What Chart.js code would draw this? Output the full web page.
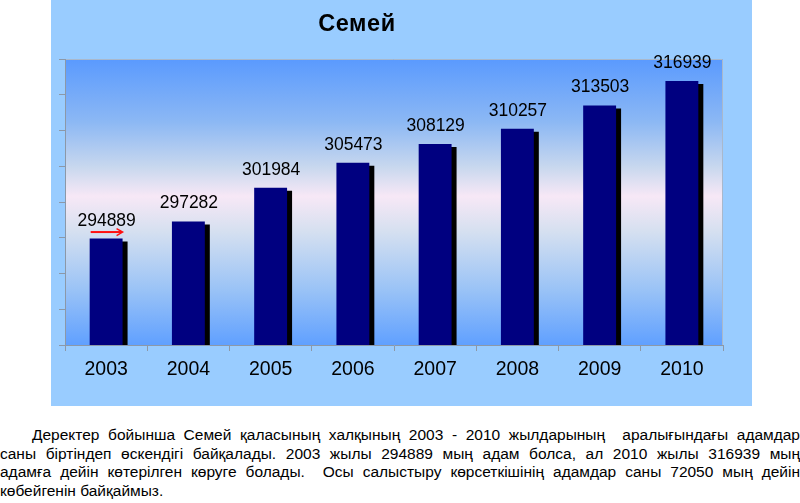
<!DOCTYPE html>
<html>
<head>
<meta charset="utf-8">
<script src="https://cdn.jsdelivr.net/npm/chart.js@4"></script>
<style>
  html, body { margin: 0; padding: 0; background: #ffffff; }
  body { width: 800px; height: 503px; position: relative; overflow: hidden; font-family: "Liberation Sans", Arial, sans-serif; }
  #box { position: absolute; left: 51px; top: 0; width: 701px; height: 406px; background: #99CCFF; }
  #box canvas { position: absolute; left: 0; top: 0; }
  #title { position: absolute; left: 257px; width: 200px; top: 10px; text-align: center; font: bold 23.5px "Liberation Sans", Arial, sans-serif; color: #000; letter-spacing: 0.6px; }
  #para { position: absolute; left: 0; top: 426px; width: 800px; font-size: 15.5px; line-height: 18.7px; color: #000; }
  #para .j { text-align: justify; text-align-last: justify; white-space: pre-wrap; }
  #para .first { text-indent: 32px; }
</style>
</head>
<body>
<div id="box"><canvas id="c" width="701" height="406"></canvas></div>
<div id="title">Семей</div>
<div id="para">
  <div class="j first">Деректер бойынша Семей қаласының халқының 2003 - 2010 жылдарының  аралығындағы адамдар</div>
  <div class="j">саны біртіндеп өскендігі байқалады. 2003 жылы 294889 мың адам болса, ал 2010 жылы 316939 мың</div>
  <div class="j">адамға дейін көтерілген көруге болады.  Осы салыстыру көрсеткішінің адамдар саны 72050 мың дейін</div>
  <div>көбейгенін байқаймыз.</div>
</div>
<script>
const years = ['2003', '2004', '2005', '2006', '2007', '2008', '2009', '2010'];
const population = [294889, 297282, 301984, 305473, 308129, 310257, 313503, 316939];
const axisMin = 280000;
const axisMax = 320000;
const axisStep = 5000;

const plotBackground = {
  id: 'plotBackground',
  beforeDraw(chart) {
    const { ctx, chartArea: a } = chart;
    const g = ctx.createLinearGradient(0, a.top, 0, a.bottom);
    g.addColorStop(0, '#5A9AFE');
    g.addColorStop(0.22, '#8CB8F4');
    g.addColorStop(0.38, '#C9D8EE');
    g.addColorStop(0.48, '#F7E8F6');
    g.addColorStop(0.6, '#D6E0F0');
    g.addColorStop(0.8, '#9CC4F6');
    g.addColorStop(1, '#60A0FF');
    ctx.save();
    ctx.fillStyle = g;
    ctx.fillRect(a.left, a.top, a.right - a.left, a.bottom - a.top);
    ctx.strokeStyle = '#A9B8CC';
    ctx.lineWidth = 1;
    ctx.beginPath();
    ctx.moveTo(a.left, a.top + 0.5);
    ctx.lineTo(a.right - 0.5, a.top + 0.5);
    ctx.lineTo(a.right - 0.5, a.bottom);
    ctx.stroke();
    ctx.restore();
  }
};

const barShadow = {
  id: 'barShadow',
  beforeDatasetsDraw(chart) {
    const ctx = chart.ctx;
    ctx.save();
    ctx.shadowColor = '#000000';
    ctx.shadowOffsetX = 5;
    ctx.shadowOffsetY = 3;
    ctx.shadowBlur = 0;
  },
  afterDatasetsDraw(chart) {
    chart.ctx.restore();
  }
};

const valueLabels = {
  id: 'valueLabels',
  afterDatasetsDraw(chart) {
    const ctx = chart.ctx;
    const meta = chart.getDatasetMeta(0);
    ctx.save();
    ctx.fillStyle = '#000000';
    ctx.font = '17.5px "Liberation Sans", Arial, sans-serif';
    ctx.textAlign = 'center';
    ctx.textBaseline = 'alphabetic';
    meta.data.forEach((bar, i) => {
      ctx.fillText(String(chart.data.datasets[0].data[i]), bar.x + 0.5, bar.y - 13);
    });
    // red arrow above the first bar
    const b = meta.data[0];
    const left = b.x - b.width / 2 + 1;
    const right = b.x + b.width / 2;
    const y = b.y - 6.5;
    ctx.strokeStyle = '#FF1010';
    ctx.lineWidth = 2;
    ctx.beginPath();
    ctx.moveTo(left, y);
    ctx.lineTo(right - 1, y);
    ctx.stroke();
    ctx.beginPath();
    ctx.moveTo(right - 6, y - 3.5);
    ctx.lineTo(right, y);
    ctx.lineTo(right - 6, y + 3.5);
    ctx.lineWidth = 1.5;
    ctx.stroke();
    ctx.restore();
  }
};

new Chart(document.getElementById('c'), {
  type: 'bar',
  data: {
    labels: years,
    datasets: [{
      data: population,
      backgroundColor: '#000080',
      borderWidth: 0,
      categoryPercentage: 1,
      barPercentage: 0.4
    }]
  },
  options: {
    responsive: false,
    animation: false,
    events: [],
    layout: { padding: { top: 59, right: 29, left: 0, bottom: 0 } },
    plugins: { legend: { display: false }, tooltip: { enabled: false }, title: { display: false } },
    scales: {
      x: {
        grid: { display: true, drawOnChartArea: false, drawTicks: true, tickLength: 6, color: '#8C98A8', offset: true },
        border: { display: true, color: '#8C98A8', width: 1 },
        ticks: { color: '#000000', font: { size: 19.5, family: '"Liberation Sans", Arial, sans-serif' }, padding: 7, maxRotation: 0 },
        afterFit(scale) { scale.height = 61; }
      },
      y: {
        min: axisMin,
        max: axisMax,
        grid: { display: true, drawOnChartArea: false, drawTicks: true, tickLength: 6, color: '#8C98A8' },
        border: { display: true, color: '#8C98A8', width: 1 },
        ticks: { display: false, stepSize: axisStep },
        afterFit(scale) { scale.width = 14; }
      }
    }
  },
  plugins: [plotBackground, barShadow, valueLabels]
});
</script>
</body>
</html>
